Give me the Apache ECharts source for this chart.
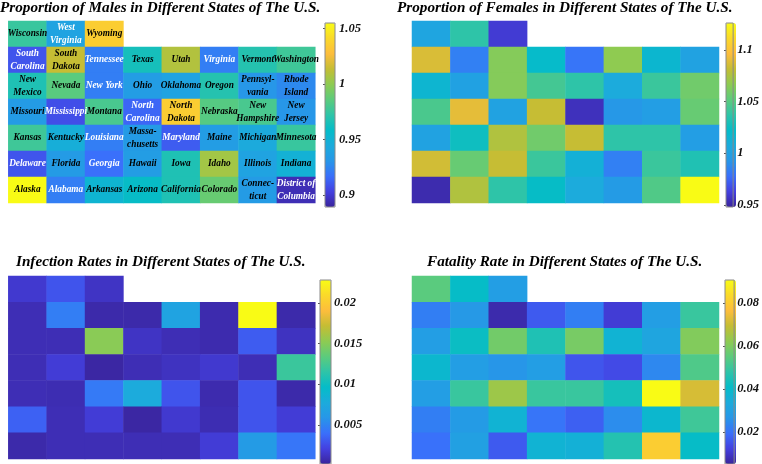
<!DOCTYPE html>
<html><head><meta charset="utf-8">
<style>html,body{margin:0;padding:0;background:#fff}#c{width:762px;height:464px}</style>
<script src="https://cdn.jsdelivr.net/npm/echarts@6/dist/echarts.min.js"></script>
</head><body><div id="c"></div>
<script>
const stateNames = [
 ["Wisconsin","West\nVirginia","Wyoming"],
 ["South\nCarolina","South\nDakota","Tennessee","Texas","Utah","Virginia","Vermont","Washington"],
 ["New\nMexico","Nevada","New York","Ohio","Oklahoma","Oregon","Pennsyl-\nvania","Rhode\nIsland"],
 ["Missouri","Mississippi","Montana","North\nCarolina","North\nDakota","Nebraska","New\nHampshire","New\nJersey"],
 ["Kansas","Kentucky","Louisiana","Massa-\nchusetts","Maryland","Maine","Michigan","Minnesota"],
 ["Delaware","Florida","Georgia","Hawaii","Iowa","Idaho","Illinois","Indiana"],
 ["Alaska","Alabama","Arkansas","Arizona","California","Colorado","Connec-\nticut","District of\nColumbia"]
];
const whiteLabels = ["West\nVirginia","South\nCarolina","Tennessee","Virginia","New York","Mississippi","North\nCarolina","Louisiana","Maryland","Delaware","Georgia","Alabama","District of\nColumbia"];
const males = [
 [.975,.939,1.035],
 [.909,1.014,.922,.964,1.009,.922,.969,.977],
 [.967,.985,.922,.935,.939,.969,.931,.926],
 [.934,.907,.980,.914,1.035,.984,.980,.931],
 [.977,.947,.922,.934,.911,.935,.944,.975],
 [.909,.934,.917,.935,.967,1.005,.939,.949],
 [1.055,.922,.952,.959,.967,.989,.934,.894]
];
const females = [
 [1.003,1.037,.960],
 [1.087,.984,1.064,1.021,.980,1.067,1.017,1.001],
 [1.016,1.000,1.064,1.044,1.037,1.007,1.041,1.058],
 [1.046,1.090,1.001,1.082,.955,.994,.998,1.055],
 [1.001,1.026,1.076,1.058,1.082,1.037,1.037,.998],
 [1.085,1.055,1.082,1.041,1.012,.984,1.041,1.032],
 [.952,1.076,1.037,1.023,1.007,.996,1.048,1.126]
];
const infection = [
 [.0016,.0029,.0013],
 [.0009,.0047,.0006,.0006,.0070,.0007,.0228,.0006],
 [.0009,.0009,.0151,.0013,.0009,.0007,.0032,.0012],
 [.0009,.0018,.0004,.0009,.0012,.0016,.0009,.0120],
 [.0009,.0008,.0045,.0077,.0029,.0007,.0029,.0006],
 [.0034,.0009,.0018,.0004,.0016,.0008,.0029,.0018],
 [.0006,.0009,.0009,.0009,.0009,.0018,.0063,.0043]
];
const fatality = [
 [.0547,.0411,.0291],
 [.0222,.0274,.0068,.0162,.0222,.0111,.0291,.0496],
 [.0291,.0419,.0582,.0453,.0590,.0368,.0316,.0605],
 [.0385,.0291,.0265,.0291,.0154,.0137,.0239,.0530],
 [.0291,.0496,.0642,.0496,.0496,.0436,.0907,.0715],
 [.0222,.0282,.0368,.0205,.0171,.0248,.0385,.0505],
 [.0197,.0299,.0162,.0368,.0359,.0462,.0804,.0411]
];
const maleTicks = [0.9,0.95,1,1.05];
const femaleTicks = [0.95,1,1.05,1.1];
const infectionTicks = [0.005,0.01,0.015,0.02];
const fatalityTicks = [0.02,0.04,0.06,0.08];
const parula = ['#3a249c','#4440e0','#3a6ffb','#2796e8','#1cabdc','#04bcc8','#2ec4a8','#5ccb7c','#8ecb52','#c4bd34','#fdbd3c','#fad92a','#f9fb15'];
const font = '"Liberation Serif"';
const panels = [
 {title:"Proportion of Males in Different States of The U.S.",tx:0,ty:1,data:males,ticks:maleTicks,names:true,min:.889,max:1.055,m:4,
  g:{left:8.3,top:21,width:307,height:182},b:{left:325,top:23,width:10,height:184}},
 {title:"Proportion of Females in Different States of The U.S.",tx:397,ty:1,data:females,ticks:femaleTicks,min:.948,max:1.126,m:4,
  g:{left:412,top:21,width:307,height:182},b:{left:726,top:23,width:10,height:184}},
 {title:"Infection Rates in Different States of The U.S.",tx:16,ty:255,data:infection,ticks:infectionTicks,min:.0002,max:.0228,m:3,
  g:{left:8.3,top:276,width:307,height:183},b:{left:320,top:280,width:11,height:184}},
 {title:"Fatality Rate in Different States of The U.S.",tx:427,ty:255,data:fatality,ticks:fatalityTicks,min:.0051,max:.0907,m:3,
  g:{left:412,top:276,width:307,height:183},b:{left:725,top:280,width:11,height:184}}
];
const xCats=[0,1,2,3,4,5,6,7], yCats=[0,1,2,3,4,5,6];
const opt={animation:false,backgroundColor:'#fff',title:[],grid:[],xAxis:[],yAxis:[],visualMap:[],series:[]};
panels.forEach((p,i)=>{
  opt.title.push({text:p.title,left:p.tx,top:p.ty,padding:0,textStyle:{fontFamily:font,fontStyle:'italic',fontWeight:'bold',fontSize:15.2,color:'#000'}});
  opt.grid.push({...p.g,containLabel:false});
  opt.xAxis.push({type:'category',gridIndex:2*i,data:xCats,show:false});
  opt.yAxis.push({type:'category',gridIndex:2*i,data:yCats,inverse:true,show:false});
  opt.grid.push({...p.b,show:true,borderColor:'#8a8a8a',borderWidth:1,backgroundColor:'transparent',z:5});
  opt.xAxis.push({type:'value',gridIndex:2*i+1,show:false,min:0,max:1});
  opt.yAxis.push({type:'value',gridIndex:2*i+1,position:'right',min:p.min,max:p.max,splitLine:{show:false},
    axisLine:{show:false},
    axisTick:{show:true,inside:true,length:2,customValues:p.ticks,lineStyle:{color:'#555'}},
    axisLabel:{show:true,margin:p.m,customValues:p.ticks,formatter:v=>String(+v.toFixed(3)),fontFamily:font,fontStyle:'italic',fontWeight:'bold',fontSize:12.5,color:'#111'}});
  opt.visualMap.push({type:'continuous',seriesIndex:i,min:p.min,max:p.max,calculable:false,showLabel:false,text:['',''],
    left:p.b.left,top:p.b.top,itemWidth:p.b.width,itemHeight:p.b.height,padding:0,inRange:{color:parula},z:1});
  const d=[];
  p.data.forEach((row,r)=>row.forEach((v,c)=>{
    const it={value:[c,r,v]};
    if(p.names){const n=stateNames[r][c];it.name=n;it.label={show:true,formatter:n,color:whiteLabels.includes(n)?'#fff':'#000',
      fontFamily:font,fontStyle:'italic',fontWeight:'bold',fontSize:9.3,lineHeight:13};}
    d.push(it);
  }));
  opt.series.push({type:'heatmap',xAxisIndex:2*i,yAxisIndex:2*i,data:d,itemStyle:{borderWidth:0},emphasis:{disabled:true}});
});
echarts.init(document.getElementById('c'),null,{renderer:'canvas'}).setOption(opt);
</script></body></html>
